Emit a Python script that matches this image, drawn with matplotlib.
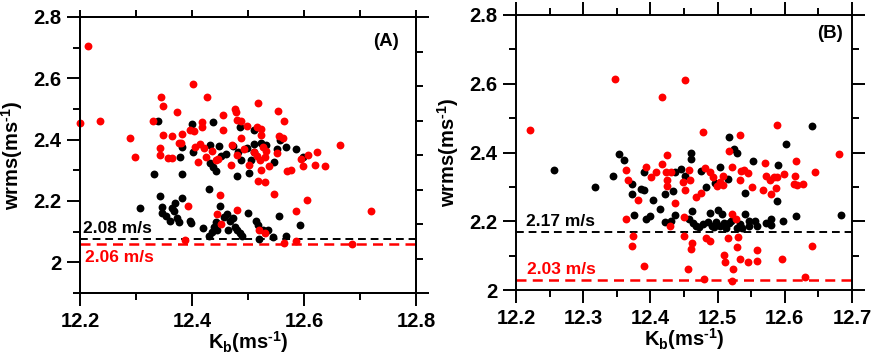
import numpy as np
import matplotlib
matplotlib.use('Agg')
import matplotlib.pyplot as plt
from matplotlib.ticker import MultipleLocator

plt.rcParams['font.family'] = ['Liberation Sans', 'DejaVu Sans']
plt.rcParams['font.weight'] = 'bold'
plt.rcParams['mathtext.fontset'] = 'custom'
plt.rcParams['mathtext.rm'] = 'Liberation Sans:bold'
plt.rcParams['mathtext.bf'] = 'Liberation Sans:bold'
plt.rcParams['mathtext.it'] = 'Liberation Sans:bold'

# ---- 面板 A 数据 ----
a_red_x = [12.200, 12.215, 12.235, 12.290, 12.299, 12.331, 12.345, 12.349, 12.349, 12.342,
           12.343, 12.357, 12.364, 12.365, 12.374, 12.376, 12.381, 12.382, 12.393, 12.388,
           12.401, 12.396, 12.404, 12.405, 12.411, 12.417, 12.418, 12.415, 12.421, 12.425,
           12.426, 12.436, 12.443, 12.447, 12.455, 12.456, 12.450, 12.445, 12.452, 12.469,
           12.471, 12.477, 12.479, 12.481, 12.487, 12.488, 12.481, 12.493, 12.480, 12.499,
           12.502, 12.511, 12.517, 12.516, 12.524, 12.524, 12.516, 12.521, 12.523, 12.517,
           12.531, 12.527, 12.533, 12.537, 12.530, 12.520, 12.531, 12.546, 12.551, 12.553,
           12.555, 12.562, 12.564, 12.564, 12.570, 12.576, 12.585, 12.586, 12.595, 12.599,
           12.606, 12.608, 12.623, 12.620, 12.638, 12.664, 12.685, 12.720]
a_red_y = [2.453, 2.706, 2.462, 2.407, 2.344, 2.462, 2.538, 2.511, 2.414, 2.372,
           2.349, 2.340, 2.411, 2.340, 2.489, 2.390, 2.388, 2.420, 2.183, 2.073,
           2.581, 2.431, 2.429, 2.377, 2.326, 2.458, 2.442, 2.386, 2.374, 2.344,
           2.538, 2.363, 2.334, 2.336, 2.431, 2.480, 2.218, 2.158, 2.126, 2.319,
           2.381, 2.499, 2.491, 2.464, 2.460, 2.407, 2.349, 2.370, 2.171, 2.444,
           2.316, 2.360, 2.518, 2.440, 2.436, 2.416, 2.346, 2.333, 2.302, 2.264,
           2.263, 2.377, 2.363, 2.313, 2.342, 2.106, 2.097, 2.222, 2.355, 2.492,
           2.411, 2.404, 2.462, 2.062, 2.298, 2.302, 2.167, 2.071, 2.337, 2.315,
           2.202, 2.351, 2.360, 2.318, 2.315, 2.381, 2.060, 2.167]

a_blk_x = [12.339, 12.332, 12.343, 12.307, 12.346, 12.347, 12.353, 12.360, 12.364, 12.368,
           12.370, 12.373, 12.377, 12.383, 12.383, 12.379, 12.383, 12.396, 12.399, 12.400,
           12.402, 12.419, 12.430, 12.432, 12.433, 12.438, 12.438, 12.443, 12.430, 12.436,
           12.439, 12.443, 12.444, 12.450, 12.449, 12.452, 12.457, 12.460, 12.462, 12.464,
           12.468, 12.473, 12.476, 12.480, 12.481, 12.474, 12.483, 12.487, 12.485, 12.490,
           12.498, 12.500, 12.502, 12.505, 12.511, 12.511, 12.514, 12.517, 12.520, 12.523,
           12.526, 12.533, 12.536, 12.545, 12.546, 12.551, 12.556, 12.558, 12.567, 12.568,
           12.586, 12.593, 12.599, 12.510, 12.486]
a_blk_y = [2.462, 2.288, 2.217, 2.178, 2.180, 2.160, 2.150, 2.136, 2.178, 2.169,
           2.195, 2.145, 2.130, 2.211, 2.288, 2.344, 2.377, 2.136, 2.128, 2.451,
           2.359, 2.111, 2.239, 2.324, 2.381, 2.458, 2.311, 2.298, 2.086, 2.099,
           2.115, 2.130, 2.104, 2.184, 2.379, 2.348, 2.147, 2.352, 2.158, 2.104,
           2.136, 2.143, 2.115, 2.104, 2.280, 2.379, 2.360, 2.335, 2.097, 2.086,
           2.373, 2.162, 2.291, 2.335, 2.433, 2.359, 2.136, 2.123, 2.075, 2.390,
           2.104, 2.381, 2.104, 2.082, 2.326, 2.368, 2.152, 2.398, 2.377, 2.086,
           2.368, 2.123, 2.344, 2.386, 2.442]

a_blk_line = 2.077
a_red_line = 2.06

# ---- 面板 B 数据 ----
b_red_x = [12.347, 12.221, 12.364, 12.367, 12.363, 12.374, 12.372, 12.382, 12.390, 12.393,
           12.401, 12.408, 12.418, 12.418, 12.423, 12.424, 12.425, 12.425, 12.429, 12.436,
           12.430, 12.452, 12.449, 12.451, 12.458, 12.459, 12.450, 12.450, 12.460, 12.462,
           12.456, 12.468, 12.476, 12.478, 12.481, 12.482, 12.480, 12.489, 12.488, 12.493,
           12.499, 12.503, 12.508, 12.508, 12.510, 12.511, 12.517, 12.515, 12.522, 12.522,
           12.527, 12.523, 12.522, 12.529, 12.530, 12.534, 12.535, 12.533, 12.540, 12.534,
           12.545, 12.545, 12.551, 12.558, 12.559, 12.567, 12.571, 12.572, 12.580, 12.578,
           12.584, 12.588, 12.587, 12.589, 12.596, 12.599, 12.616, 12.615, 12.614, 12.618,
           12.627, 12.630, 12.640, 12.645, 12.680]
b_red_y = [2.614, 2.465, 2.348, 2.319, 2.207, 2.158, 2.129, 2.262, 2.071, 2.358,
           2.329, 2.344, 2.562, 2.367, 2.343, 2.319, 2.392, 2.304, 2.187, 2.253,
           2.343, 2.610, 2.314, 2.292, 2.350, 2.319, 2.212, 2.158, 2.120, 2.136,
           2.061, 2.270, 2.282, 2.459, 2.356, 2.152, 2.032, 2.342, 2.144, 2.329,
           2.304, 2.314, 2.333, 2.306, 2.103, 2.081, 2.404, 2.152, 2.358, 2.222,
           2.207, 2.061, 2.025, 2.126, 2.154, 2.450, 2.346, 2.319, 2.348, 2.090,
           2.081, 2.340, 2.301, 2.115, 2.084, 2.292, 2.369, 2.333, 2.280, 2.319,
           2.329, 2.479, 2.296, 2.329, 2.090, 2.338, 2.375, 2.333, 2.309, 2.306,
           2.309, 2.039, 2.129, 2.343, 2.395]

b_blk_x = [12.256, 12.318, 12.345, 12.354, 12.360, 12.372, 12.372, 12.375, 12.386, 12.391,
           12.391, 12.394, 12.400, 12.404, 12.414, 12.422, 12.421, 12.431, 12.433, 12.436,
           12.437, 12.446, 12.452, 12.460, 12.461, 12.462, 12.458, 12.463, 12.468, 12.476,
           12.483, 12.478, 12.486, 12.489, 12.491, 12.496, 12.498, 12.501, 12.504, 12.506,
           12.503, 12.510, 12.515, 12.517, 12.517, 12.520, 12.525, 12.529, 12.529, 12.533,
           12.541, 12.541, 12.547, 12.552, 12.555, 12.558, 12.572, 12.579, 12.580, 12.588,
           12.590, 12.597, 12.602, 12.617, 12.641, 12.684, 12.473, 12.495, 12.512, 12.537,
           12.546]
b_blk_y = [2.348, 2.299, 2.333, 2.395, 2.377, 2.309, 2.278, 2.217, 2.295, 2.292,
           2.342, 2.206, 2.214, 2.261, 2.236, 2.280, 2.197, 2.200, 2.288, 2.217,
           2.343, 2.353, 2.333, 2.400, 2.382, 2.231, 2.207, 2.194, 2.187, 2.346,
           2.301, 2.192, 2.197, 2.225, 2.187, 2.311, 2.197, 2.233, 2.358, 2.222,
           2.187, 2.194, 2.324, 2.445, 2.194, 2.202, 2.411, 2.399, 2.181, 2.192,
           2.222, 2.282, 2.202, 2.375, 2.200, 2.185, 2.194, 2.207, 2.188, 2.260,
           2.365, 2.200, 2.426, 2.214, 2.476, 2.217, 2.183, 2.183, 2.179, 2.179,
           2.185]

b_blk_line = 2.17
b_red_line = 2.03

a_xticks = [12.2, 12.4, 12.6, 12.8]
b_xticks = [12.2, 12.3, 12.4, 12.5, 12.6, 12.7]
yticks = [2.0, 2.2, 2.4, 2.6, 2.8]
ytick_labels = ['2', '2.2', '2.4', '2.6', '2.8']

# 右侧轴（面板A）等分刻度
a_right_major = [0, 8]
a_right_minor = [1, 2, 3, 4, 5, 6, 7]

LW = 1.4
MAJ = 9.5
MIN = 5.0
TICK_FS = 14.5
LABEL_FS = 14.5
XLAB = r'$\mathbf{K_b(ms^{\text{-}1})}$'
YLAB = r'$\mathbf{wrms(ms^{\text{-}1})}$'


def style_axis(ax):
    for sp in ax.spines.values():
        sp.set_linewidth(LW)
    ax.tick_params(which='both', direction='out', width=LW, pad=4)
    ax.tick_params(which='major', length=MAJ)
    ax.tick_params(which='minor', length=MIN)


fig = plt.figure(figsize=(8.72, 3.62), dpi=100)

# ================= 面板 A =================
ax1 = fig.add_axes([80 / 872, 69 / 362, 336 / 872, 276 / 362])
ax1.scatter(a_blk_x, a_blk_y, s=32, c='black', linewidths=0, zorder=3, clip_on=False)
ax1.scatter(a_red_x, a_red_y, s=32, c='red', linewidths=0, zorder=3, clip_on=False)
ax1.axhline(a_blk_line, color='black', ls=(0, (4, 2.5)), lw=1.4, zorder=2)
ax1.axhline(a_red_line, color='red', ls=(0, (4, 2.5)), lw=1.8, zorder=2)
ax1.text(12.206, 2.111, '2.08 m/s', color='black', fontsize=12.5, fontweight='bold',
         ha='left', va='center')
ax1.text(12.209, 2.016, '2.06 m/s', color='red', fontsize=12.5, fontweight='bold',
         ha='left', va='center')
ax1.text(12.770, 2.72, '(A)', fontsize=13.5, fontweight='bold', ha='right', va='center')
ax1.set_xlim(12.2, 12.8)
ax1.set_ylim(1.9, 2.8)
ax1.set_xticks(a_xticks)
ax1.set_xticklabels([f'{v:.1f}' for v in a_xticks], fontsize=TICK_FS, fontweight='bold')
ax1.xaxis.set_minor_locator(MultipleLocator(0.1))
ax1.set_yticks(yticks)
ax1.set_yticklabels(ytick_labels, fontsize=TICK_FS, fontweight='bold')
ax1.yaxis.set_minor_locator(MultipleLocator(0.1))
style_axis(ax1)
ax1.set_xlabel(XLAB, fontsize=LABEL_FS)
ax1.set_ylabel(YLAB, fontsize=LABEL_FS)
ax1.xaxis.set_label_coords(0.5, -0.13)
ax1.yaxis.set_label_coords(-0.163, 0.5)

# 顶部刻度
ax1t = ax1.twiny()
ax1t.set_xlim(12.2, 12.8)
ax1t.set_xticks(np.arange(12.2, 12.81, 0.1))
ax1t.set_xticklabels([])
ax1t.tick_params(direction='out', length=MIN, width=LW)
# 右侧刻度
ax1r = ax1.twinx()
ax1r.set_ylim(0, 8)
ax1r.set_yticks(a_right_major)
ax1r.set_yticks(a_right_minor, minor=True)
ax1r.set_yticklabels([])
ax1r.tick_params(which='major', direction='out', length=MAJ, width=LW)
ax1r.tick_params(which='minor', direction='out', length=MIN, width=LW)
for a in (ax1t, ax1r):
    for sp in a.spines.values():
        sp.set_linewidth(LW)

# ================= 面板 B =================
ax2 = fig.add_axes([516 / 872, 72 / 362, 336 / 872, 275 / 362])
ax2.scatter(b_blk_x, b_blk_y, s=32, c='black', linewidths=0, zorder=3, clip_on=False)
ax2.scatter(b_red_x, b_red_y, s=32, c='red', linewidths=0, zorder=3, clip_on=False)
ax2.axhline(b_blk_line, color='black', ls=(0, (4, 2.5)), lw=1.4, zorder=2)
ax2.axhline(b_red_line, color='red', ls=(0, (4, 2.5)), lw=1.8, zorder=2)
ax2.text(12.215, 2.200, '2.17 m/s', color='black', fontsize=12.5, fontweight='bold',
         ha='left', va='center')
ax2.text(12.216, 2.061, '2.03 m/s', color='red', fontsize=12.5, fontweight='bold',
         ha='left', va='center')
ax2.text(12.687, 2.746, '(B)', fontsize=13.5, fontweight='bold', ha='right', va='center')
ax2.set_xlim(12.2, 12.7)
ax2.set_ylim(2.0, 2.8)
ax2.set_xticks(b_xticks)
ax2.set_xticklabels([f'{v:.1f}' for v in b_xticks], fontsize=TICK_FS, fontweight='bold')
ax2.xaxis.set_minor_locator(MultipleLocator(0.05))
ax2.set_yticks(yticks)
ax2.set_yticklabels(ytick_labels, fontsize=TICK_FS, fontweight='bold')
ax2.yaxis.set_minor_locator(MultipleLocator(0.1))
style_axis(ax2)
ax2.tick_params(which='both', top=True, right=True)
ax2.set_xlabel(XLAB, fontsize=LABEL_FS)
ax2.set_ylabel(YLAB, fontsize=LABEL_FS)
ax2.xaxis.set_label_coords(0.5, -0.13)
ax2.yaxis.set_label_coords(-0.163, 0.5)

fig.savefig('out.png', dpi=100)
